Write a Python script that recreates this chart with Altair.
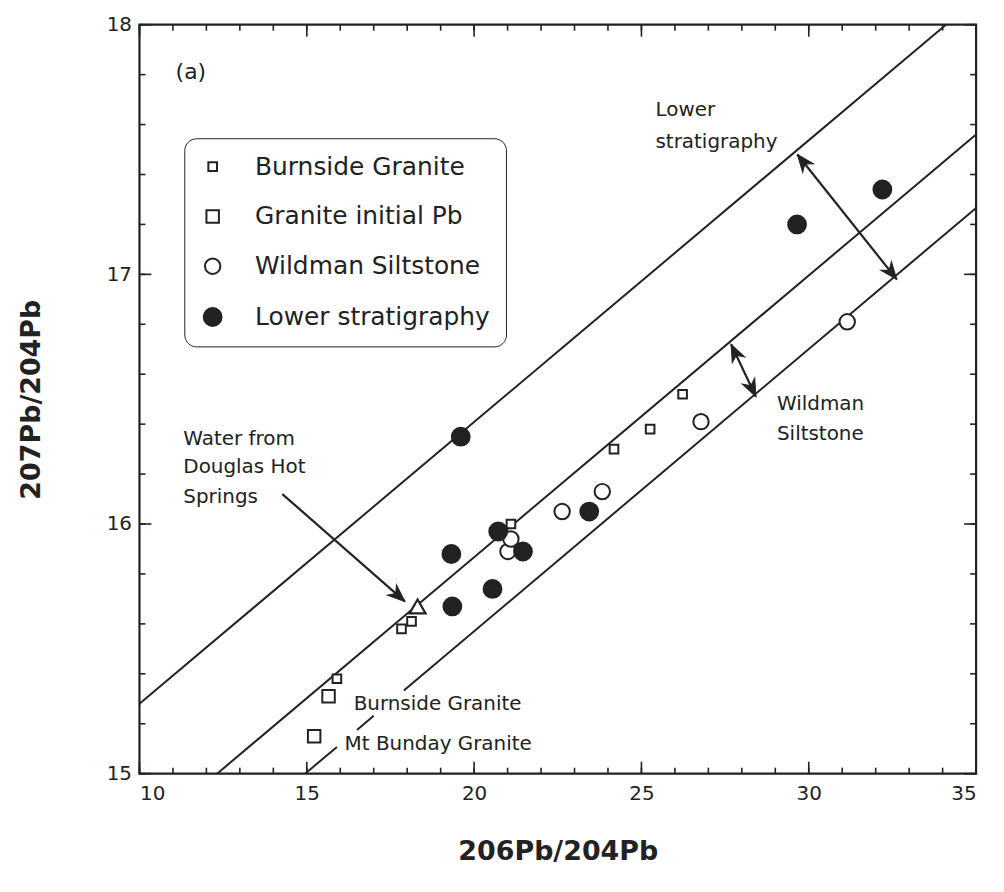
import math
import altair as alt
import pandas as pd

# ---------------- data ----------------
# Burnside Granite (small open squares)
bg_x = [15.90, 17.83, 18.13, 21.10, 24.18, 25.26, 26.23]
bg_y = [15.38, 15.58, 15.61, 16.00, 16.30, 16.38, 16.52]
# Granite initial Pb (large open squares)
gi_x = [15.65, 15.22]
gi_y = [15.31, 15.15]
# Wildman Siltstone (open circles)
ws_x = [21.01, 21.10, 22.63, 23.83, 26.78, 31.15]
ws_y = [15.89, 15.94, 16.05, 16.13, 16.41, 16.81]
# Lower stratigraphy (filled circles)
ls_x = [19.60, 19.32, 19.35, 20.55, 20.72, 21.46, 23.44, 29.65, 32.20]
ls_y = [16.35, 15.88, 15.67, 15.74, 15.97, 15.89, 16.05, 17.20, 17.34]
# Water from Douglas Hot Springs (triangle)
hw_x = [18.31]
hw_y = [15.67]

groups = ["Burnside Granite", "Granite initial Pb", "Wildman Siltstone", "Lower stratigraphy"]

# reference lines (end points of each drawn segment)
line_id = ["upper", "upper", "middle", "middle", "low1", "low1", "low2", "low2", "low3", "low3"]
line_x = [10.0, 34.1, 12.32, 35.0, 14.95, 15.9, 16.5, 17.0, 17.9, 35.0]
line_y = [15.28, 18.0, 15.0, 17.56, 15.0, 15.107, 15.175, 15.232, 15.333, 17.266]

# arrows: start, end, whether head at start
arr_x1 = [14.27, 29.66, 27.68]
arr_y1 = [16.12, 17.48, 16.72]
arr_x2 = [17.93, 32.63, 28.42]
arr_y2 = [15.69, 16.98, 16.51]
arr_double = [False, True, True]

# text annotations
ann_text = ["Lower", "stratigraphy", "Wildman", "Siltstone", "Water from", "Douglas Hot",
            "Springs", "Burnside Granite", "Mt Bunday Granite"]
ann_x = [25.42, 25.42, 29.05, 29.05, 11.31, 11.31, 11.31, 16.40, 16.13]
ann_y = [17.66, 17.53, 16.48, 16.36, 16.34, 16.23, 16.11, 15.28, 15.12]
panel_label = ["(a)"]
panel_x = [11.08]
panel_y = [17.81]

# axis ticks
x_major = [10, 15, 20, 25, 30, 35]
x_minor = list(range(10, 36))
y_major = [15, 16, 17, 18]
y_minor = [15.0, 15.2, 15.4, 15.6, 15.8, 16.0, 16.2, 16.4, 16.6, 16.8,
           17.0, 17.2, 17.4, 17.6, 17.8, 18.0]

# ---------------- chart ----------------
W, H = 840, 752
INK = "#222222"
FONT = "DejaVu Sans"

xscale = alt.Scale(domain=[10, 35], nice=False, zero=False)
yscale = alt.Scale(domain=[15, 18], nice=False, zero=False)
xaxis = alt.Axis(values=x_major, title="206Pb/204Pb", ticks=False, domain=False, grid=False,
                 labelFont=FONT, labelFontSize=20, labelColor=INK, labelPadding=10,
                 titleFont=FONT, titleFontSize=27, titleFontWeight="bold", titleColor=INK,
                 titleY=86, titleBaseline="alphabetic")
yaxis = alt.Axis(values=y_major, title="207Pb/204Pb", ticks=False, domain=False, grid=False,
                 labelFont=FONT, labelFontSize=20, labelColor=INK, labelPadding=8,
                 titleFont=FONT, titleFontSize=27, titleFontWeight="bold", titleColor=INK,
                 titleX=-100, titleAngle=270, titleBaseline="alphabetic")


def X(f):
    return alt.X(f, type="quantitative", scale=xscale, axis=xaxis)


def Y(f):
    return alt.Y(f, type="quantitative", scale=yscale, axis=yaxis)


# points
rows = []
for gx, gy, g in [(bg_x, bg_y, groups[0]), (gi_x, gi_y, groups[1]),
                  (ws_x, ws_y, groups[2]), (ls_x, ls_y, groups[3])]:
    for a, b in zip(gx, gy):
        rows.append({"x": a, "y": b, "group": g})
pts = pd.DataFrame(rows)

legend = alt.Legend(orient="none", legendX=45, legendY=114, title=None,
                    strokeColor=INK, cornerRadius=12, padding=16, rowPadding=24,
                    labelFont=FONT, labelFontSize=25, labelColor=INK, labelOffset=30,
                    labelLimit=500, symbolStrokeColor=INK, symbolStrokeWidth=2)

points = alt.Chart(pts).mark_point(filled=True, strokeWidth=2, opacity=1).encode(
    x=X("x"), y=Y("y"),
    shape=alt.Shape("group:N", scale=alt.Scale(domain=groups, range=["square", "square", "circle", "circle"]), legend=legend),
    size=alt.Size("group:N", scale=alt.Scale(domain=groups, range=[75, 320, 250, 180]), legend=legend),
    fill=alt.Fill("group:N", scale=alt.Scale(domain=groups, range=["white", "white", "white", INK]), legend=legend),
    stroke=alt.Stroke("group:N", scale=alt.Scale(domain=groups, range=[INK, INK, INK, INK]), legend=legend),
)

water = alt.Chart(pd.DataFrame({"x": hw_x, "y": hw_y})).mark_point(
    shape="triangle-up", size=260, filled=True, fill="white", stroke=INK, strokeWidth=2.2, opacity=1
).encode(x=X("x"), y=Y("y"))

lines = alt.Chart(pd.DataFrame({"x": line_x, "y": line_y, "id": line_id})).mark_line(
    color=INK, strokeWidth=2
).encode(x=X("x"), y=Y("y"), detail="id:N")

# arrows
px_per_x = W / 25.0
px_per_y = H / 3.0
shafts = pd.DataFrame({"x": arr_x1, "y": arr_y1, "x2": arr_x2, "y2": arr_y2})
heads = []
for a1, b1, a2, b2, dbl in zip(arr_x1, arr_y1, arr_x2, arr_y2, arr_double):
    vx = (a2 - a1) * px_per_x
    vy = -(b2 - b1) * px_per_y
    ang = (math.degrees(math.atan2(vx, -vy)) + 360) % 360
    heads.append({"x": a2, "y": b2, "ang": ang})
    if dbl:
        heads.append({"x": a1, "y": b1, "ang": (ang + 180) % 360})
heads = pd.DataFrame(heads)

shaft_layer = alt.Chart(shafts).mark_rule(color=INK, strokeWidth=2.2).encode(
    x=X("x"), y=Y("y"), x2="x2:Q", y2="y2:Q")
head_layer = alt.Chart(heads).mark_point(
    shape="M0,0L0.8,2L0,1.4L-0.8,2Z", size=300, filled=True, fill=INK, stroke=INK, strokeWidth=1, opacity=1
).encode(x=X("x"), y=Y("y"), angle=alt.Angle("ang:Q", scale=None))

# text
ann = alt.Chart(pd.DataFrame({"x": ann_x, "y": ann_y, "t": ann_text})).mark_text(
    align="left", baseline="middle", font=FONT, fontSize=20, color=INK
).encode(x=X("x"), y=Y("y"), text="t:N")
panel = alt.Chart(pd.DataFrame({"x": panel_x, "y": panel_y, "t": panel_label})).mark_text(
    align="left", baseline="middle", font=FONT, fontSize=22, color=INK
).encode(x=X("x"), y=Y("y"), text="t:N")


# inward ticks on all four sides
def xticks(vals, length):
    d = pd.DataFrame({"x": vals})
    bottom = alt.Chart(d).mark_rule(color=INK, strokeWidth=1.6).encode(
        x=X("x"), y=alt.value(H), y2=alt.value(H - length))
    top = alt.Chart(d).mark_rule(color=INK, strokeWidth=1.6).encode(
        x=X("x"), y=alt.value(0), y2=alt.value(length))
    return [bottom, top]


def yticks(vals, length):
    d = pd.DataFrame({"y": vals})
    left = alt.Chart(d).mark_rule(color=INK, strokeWidth=1.6).encode(
        y=Y("y"), x=alt.value(0), x2=alt.value(length))
    right = alt.Chart(d).mark_rule(color=INK, strokeWidth=1.6).encode(
        y=Y("y"), x=alt.value(W), x2=alt.value(W - length))
    return [left, right]


tick_layers = xticks(x_minor, 6) + xticks(x_major, 12) + yticks(y_minor, 6) + yticks(y_major, 12)

chart = alt.layer(
    *tick_layers, lines, shaft_layer, head_layer, water, points, ann, panel
).properties(
    width=W, height=H,
    autosize=alt.AutoSizeParams(type="none"),
    padding={"left": 132, "top": 15, "right": 20, "bottom": 110},
    background="white",
).configure_view(stroke=INK, strokeWidth=2.2)

chart.save("out.html", embed_options={"renderer": "svg", "actions": False})
